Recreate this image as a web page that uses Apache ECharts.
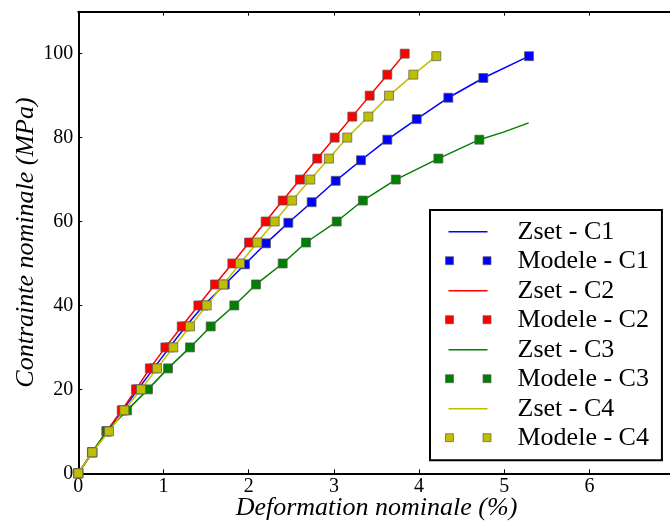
<!DOCTYPE html>
<html><head><meta charset="utf-8">
<script src="https://cdn.jsdelivr.net/npm/echarts@6/dist/echarts.min.js"></script>
<style>html,body{margin:0;padding:0;background:#fff}#c{width:670px;height:522px}</style>
</head><body><div id="c"></div>
<script>
// ---- Data (strain %, stress MPa) ----
const c1Strain = [0,0.165,0.335,0.52,0.70,0.885,1.07,1.26,1.47,1.72,1.956,2.203,2.465,2.739,3.021,3.318,3.627,3.972,4.343,4.754,5.29];
const c1Stress = [0,5,10,15,20,25,30,35,40,45,49.8,54.8,59.7,64.6,69.7,74.6,79.5,84.4,89.5,94.2,99.4];

const c2Strain = [0,0.165,0.33,0.51,0.677,0.84,1.022,1.214,1.409,1.604,1.808,2.004,2.199,2.399,2.602,2.805,3.009,3.216,3.42,3.627,3.831];
const c2Stress = [0,5,10,15,20,25,30,35,40,45,50,55,60,65,70,75,80,85,90,95,100];

const c3Strain = [0,0.16,0.333,0.572,0.818,1.053,1.311,1.554,1.831,2.086,2.399,2.673,3.033,3.34,3.727,4.226,4.707];
const c3Stress = [0,5,10,15,20,25,30,35,40,45,50,55,60,65,70,75,79.5];
// Zset C3 curve continues past the last model point
const c3ZsetTailStrain = [4.99,5.286];
const c3ZsetTailStress = [81.3,83.5];

const c4Strain = [0,0.164,0.36,0.54,0.736,0.924,1.115,1.311,1.507,1.702,1.898,2.101,2.305,2.51,2.723,2.942,3.157,3.404,3.647,3.932,4.202];
const c4Stress = [0,5,10,15,20,25,30,35,40,45,50,55,60,65,70,75,80,85,90,95,99.4];

const xTicks = [0,1,2,3,4,5,6];
const yTicks = [0,20,40,60,80,100];

const names = ['Zset - C1','Modele - C1','Zset - C2','Modele - C2','Zset - C3','Modele - C3','Zset - C4','Modele - C4'];
const colors = ['#0000ff','#ff0000','#008000','#bfbf00'];

// ---- build ----
const pair = (xs, ys) => xs.map((x, i) => [x, ys[i]]);
const sets = [
  {line: pair(c1Strain, c1Stress), pts: pair(c1Strain, c1Stress)},
  {line: pair(c2Strain, c2Stress), pts: pair(c2Strain, c2Stress)},
  {line: pair(c3Strain.concat(c3ZsetTailStrain), c3Stress.concat(c3ZsetTailStress)), pts: pair(c3Strain, c3Stress)},
  {line: pair(c4Strain, c4Stress), pts: pair(c4Strain, c4Stress)}
];

const series = [];
sets.forEach((s, i) => {
  series.push({
    name: names[2*i], type: 'line', data: s.line, showSymbol: false, symbol: 'none',
    color: colors[i], lineStyle: {width: 1.5, color: colors[i]}, animation: false, z: 2 + i
  });
  series.push({
    name: names[2*i+1], type: 'scatter', data: s.pts, symbol: 'rect', symbolSize: 9,
    itemStyle: {color: colors[i], borderColor: 'rgba(90,90,90,0.7)', borderWidth: 1, opacity: 1},
    animation: false, z: 2 + i
  });
});

const lineIcon = 'path://M0,0M67,9M3,3.75h39v1.5h-39z';
const markIcon = 'path://M0,0h8v8h-8zM37.5,0h8v8h-8zM67,9';

const legendData = names.map((n, k) => {
  const isLine = k % 2 === 0;
  return isLine
    ? {name: n, icon: lineIcon, itemStyle: {color: colors[k>>1], borderWidth: 0}}
    : {name: n, icon: markIcon, itemStyle: {color: colors[k>>1], borderColor: 'rgba(90,90,90,0.7)', borderWidth: 1}};
});

const font = 'Liberation Serif';
const axisCommon = {
  axisLine: {show: true, onZero: false, lineStyle: {color: '#000', width: 2}},
  axisTick: {show: true, inside: true, length: 4, lineStyle: {color: '#000', width: 1}},
  splitLine: {show: false}
};

const chart = echarts.init(document.getElementById('c'), null, {renderer: 'canvas'});
chart.setOption({
  backgroundColor: '#fff',
  animation: false,
  grid: {left: 78.3, top: 11.7, width: 596.4, height: 461.6, containLabel: false, outerBoundsMode: 'none'},
  xAxis: [
    Object.assign({
      type: 'value', min: 0, max: 7, interval: 1, position: 'bottom',
      name: 'Deformation nominale (%)', nameLocation: 'middle', nameGap: 22, nameMoveOverlap: false,
      nameTextStyle: {fontFamily: font, fontStyle: 'italic', fontSize: 26, color: '#000'},
      axisLabel: {fontFamily: font, fontSize: 20, color: '#000', margin: 3, showMaxLabel: false,
        formatter: v => xTicks.indexOf(v) >= 0 ? String(v) : ''}
    }, axisCommon),
    Object.assign({
      type: 'value', min: 0, max: 7, interval: 1, position: 'top', axisLabel: {show: false}
    }, axisCommon)
  ],
  yAxis: [
    Object.assign({
      type: 'value', min: 0, max: 110, interval: 20, position: 'left',
      name: 'Contrainte nominale (MPa)', nameLocation: 'middle', nameGap: 39, nameRotate: 90, nameMoveOverlap: false,
      nameTextStyle: {fontFamily: font, fontStyle: 'italic', fontSize: 26, color: '#000'},
      axisLabel: {fontFamily: font, fontSize: 20, color: '#000', margin: 5, showMaxLabel: false,
        formatter: v => yTicks.indexOf(v) >= 0 ? String(v) : ''}
    }, axisCommon),
    Object.assign({
      type: 'value', min: 0, max: 110, interval: 20, position: 'right', axisLabel: {show: false}
    }, axisCommon)
  ],
  legend: {
    orient: 'vertical', left: 430, top: 210,
    padding: [8.7, 13, 9, 15], itemGap: 3.5, itemWidth: 67, itemHeight: 9,
    backgroundColor: '#fff', borderColor: '#000', borderWidth: 2, borderRadius: 0,
    selectedMode: false,
    textStyle: {fontFamily: font, fontSize: 26, lineHeight: 26, color: '#000'},
    data: legendData
  },
  series: series
});
</script>
</body></html>
